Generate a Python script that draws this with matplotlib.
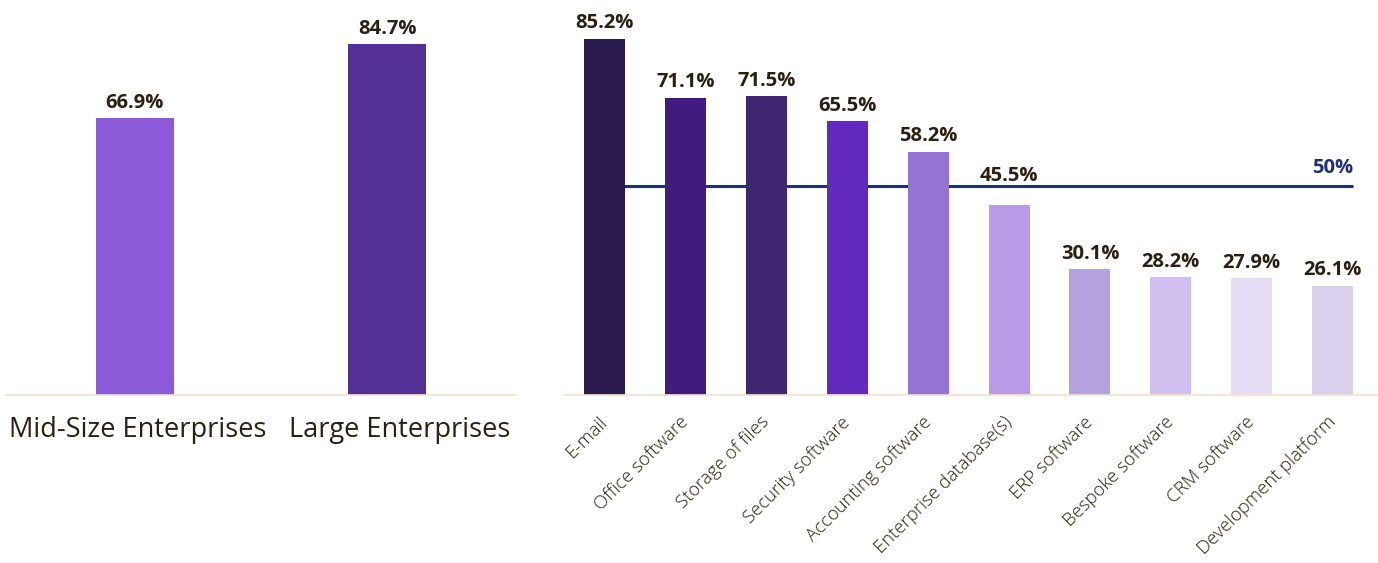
import matplotlib
matplotlib.use("Agg")
import matplotlib.pyplot as plt
import matplotlib.transforms as mtransforms
import numpy as np

# data
size_labels = ["Mid-Size Enterprises", "Large Enterprises"]
size_values = [66.9, 84.7]
size_colors = ["#8b5ad9", "#532f96"]

tool_labels = ["E-mail", "Office software", "Storage of files", "Security software",
               "Accounting software", "Enterprise database(s)", "ERP software",
               "Bespoke software", "CRM software", "Development platform"]
tool_values = [85.2, 71.1, 71.5, 65.5, 58.2, 45.5, 30.1, 28.2, 27.9, 26.1]
tool_colors = ["#2b1a4d", "#421c7d", "#3f2670", "#6229be", "#9474d3",
               "#b89ae6", "#b4a1e0", "#d1bff0", "#e6dcf5", "#dbd0ee"]
threshold = 50

plt.rcParams['font.family'] = ['Open Sans', 'DejaVu Sans']
txt_col = "#2b1f10"
base_col = "#f3e3cf"

fig = plt.figure(figsize=(13.78, 5.63), dpi=100)
W, H = 1378, 563
bottom = 1 - 395 / H

ax1 = fig.add_axes([6 / W, bottom, 510 / W, 90 * 4.14 / H])
ax2 = fig.add_axes([564 / W, bottom, (1378 - 564) / W, 90 * 4.18 / H])

for ax in (ax1, ax2):
    for s in ["top", "right", "left"]:
        ax.spines[s].set_visible(False)
    ax.spines["bottom"].set_color(base_col)
    ax.spines["bottom"].set_linewidth(1.2)
    ax.set_yticks([])
    ax.set_ylim(0, 90)
    ax.tick_params(axis="x", length=0, colors=txt_col)

# left panel
x1 = np.arange(len(size_labels))
ax1.bar(x1, size_values, width=0.31, color=size_colors, zorder=2)
ax1.set_xlim(-0.51, 1.51)
ax1.set_xticks(x1)
ax1.set_xticklabels(size_labels, fontsize=19.5)
ax1.tick_params(axis="x", pad=15)
for lab, dx in zip(ax1.get_xticklabels(), [3, 12]):
    lab.set_transform(lab.get_transform() +
                      mtransforms.ScaledTranslation(dx / 100, 0, fig.dpi_scale_trans))
for x, v in zip(x1, size_values):
    ax1.text(x, v + 1.3, f"{v}%", ha="center", va="bottom", fontsize=14.5,
             fontweight="bold", color=txt_col, clip_on=False)

# right panel
x2 = np.arange(len(tool_labels))
ax2.hlines(threshold, 0, 9.25, color="#1f2f7a", linewidth=2.2, zorder=1)
ax2.bar(x2, tool_values, width=0.507, color=tool_colors, zorder=2)
ax2.set_xlim(-0.5, 9.56)
ax2.set_xticks(x2)
ax2.set_xticklabels(tool_labels, fontsize=13.3, fontweight="light", rotation=45,
                    ha="right", va="top", rotation_mode="anchor", color="#2b1f10")
ax2.tick_params(axis="x", pad=13)
shift = mtransforms.ScaledTranslation(-6 / 100, 0, fig.dpi_scale_trans)
for lab in ax2.get_xticklabels():
    lab.set_transform(lab.get_transform() + shift)
for x, v in zip(x2, tool_values):
    y = v + 1.3
    if v < threshold and v + 8 > threshold:
        y = threshold - 0.1  # keep the label clear of the 50% line
    ax2.text(x, y, f"{v}%", ha="center", va="bottom", fontsize=14.5,
             fontweight="bold", color=txt_col, clip_on=False)
ax2.text(9.0, threshold + 1.8, f"{threshold}%", ha="center", va="bottom",
         fontsize=14.5, fontweight="bold", color="#1f2f7a")

fig.savefig("out.png", dpi=100, facecolor="white")
